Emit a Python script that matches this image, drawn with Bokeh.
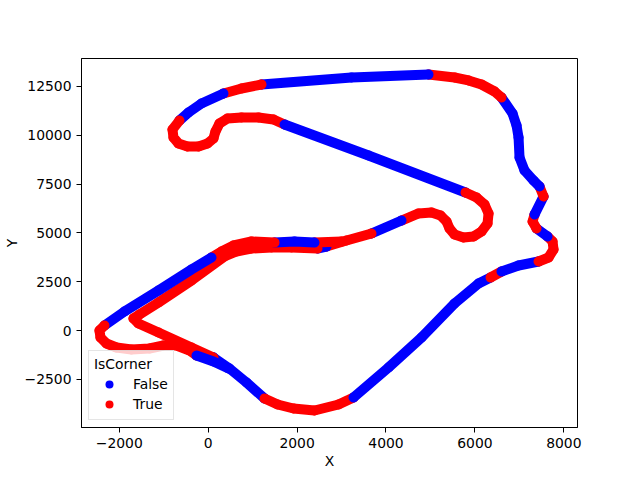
from bokeh.plotting import figure
from bokeh.models import ColumnDataSource, Range1d, FixedTicker
from bokeh.embed import file_html
from bokeh.resources import INLINE

# ---- data (track coordinates, IsCorner flag) ----
lap_x = [119, 479, 862, 1267, 1562, 1919, 2392, 2932, 3269, 4057, 4799, 5542, 6082,
         6352, 6599, 6982, 7432, 7657, 7769, 7747, 7634, 7387, 7297, 7342, 7544, 7454,
         7319, 7117, 7004, 6982, 6937, 6847, 6599, 6442, 6149, 5857, 5542, 4957, 3224,
         1199, 749, 344, -151, -443,
         -646, -803, -781, -668, -466, -218, -16, 119, 164, 254, 434, 749, 1132, 1469,
         1717, 3607, 5789, 6037, 6217, 6307, 6284, 6149, 5969, 5744, 5542, 5429, 5362,
         5227, 5024, 4732, 4349,
         3674, 3112, 2662, 2459, 1874, 1424, 974, 637, 367, -376, -1118, -1546, -1681,
         -1568, -1118, -376, 119]
lap_y = [-1383, -1947, -2664, -3484, -3791, -3996, -4098, -3791, -3432, -1896, -359,
         1383, 2408, 2715, 3023, 3330, 3535, 3740, 4150, 4559, 4816, 5225, 5584, 5943,
         6865, 7377,
         7685, 8197, 8863, 9887, 10502, 11117, 11937, 12244, 12603, 12808, 12961, 13115,
         12961, 12603, 12398, 12142, 11629, 11168,
         10758, 10297, 9887, 9580, 9426, 9426, 9580, 9836, 10195,
         10605, 10861, 10912, 10912, 10810, 10553, 8965, 7070, 6814, 6455, 5994, 5482,
         5072, 4816, 4764, 4918, 5225, 5584, 5891, 6045, 5994, 5635,
         4969, 4611, 4303, 4201, 4252, 4252, 4201,
         4047, 3791, 2562, 1434, 820, 615, 359, -102, -871, -1383]
lap_corner = [False, False, False, True, True, True, True, True, False, False, False,
              False, False, True, False, False, True, True, True, True, False, True,
              True, False, True, False,
              False, False, False, False, False, False, True, True, True, True, True,
              False, False, True, True, False, False, False,
              True, True, True, True, True, True, True, True, True, True, True, True,
              True, True, False, False,
              True, True, True, True, True, True, True, True, True, True, True, True,
              True, True, False,
              True, True, False,
              True, True, True, True, True, True, True, True, True, True, True, True,
              True, False]

alt_x = [2999, 2392, 1942, 1492, 974, 569, 299, 74, -376, -1118, -1883, -2333, -2446,
         -2423, -2288, -2063, -1726, -1321, -1006, -713, -421, -263, 119, 457]
alt_y = [4559, 4508, 4559, 4508, 4559, 4355, 4047, 3740, 3125, 2049, 973, 256, 0,
         -359, -666, -871, -973, -922, -768, -768, -1025, -1281, -1588, -1947]
alt_corner = [True, False, False, True, True, True, True, False, False, False, False,
              True, True, True, True, True, True, True, True, True, True, False, False,
              False]

x_ticks = [-2000, 0, 2000, 4000, 6000, 8000]
y_ticks = [-2500, 0, 2500, 5000, 7500, 10000, 12500]
x_range = (-2850, 8308)
y_range = (-4969, 13934)

COLORS = {False: "#0000ff", True: "#ff0000"}
FONT = "DejaVu Sans"
FS = "13.9px"


def runs(xs, ys, flags):
    out = []
    start = 0
    n = len(xs)
    for i in range(1, n):
        if flags[i] != flags[start] or i == n - 1:
            out.append((xs[start:i + 1], ys[start:i + 1], flags[start]))
            start = i
    return out


seg_xs, seg_ys, seg_col = [], [], []
for xs, ys, fl in runs(lap_x, lap_y, lap_corner) + runs(alt_x, alt_y, alt_corner):
    seg_xs.append(list(xs))
    seg_ys.append(list(ys))
    seg_col.append(COLORS[fl])

pts = ColumnDataSource(dict(
    x=lap_x + alt_x,
    y=lap_y + alt_y,
    IsCorner=[str(c) for c in lap_corner + alt_corner],
    color=[COLORS[c] for c in lap_corner + alt_corner],
))
lines = ColumnDataSource(dict(xs=seg_xs, ys=seg_ys, color=seg_col))

p = figure(frame_width=496, frame_height=369,
           x_range=Range1d(*x_range), y_range=Range1d(*y_range),
           output_backend="svg", toolbar_location=None,
           min_border_left=72, min_border_right=56,
           min_border_top=58, min_border_bottom=37,
           background_fill_color="white", border_fill_color="white")

p.scatter("x", "y", source=pts, size=10, color="color", line_color=None,
          legend_group="IsCorner")
p.multi_line("xs", "ys", source=lines, line_color="color", line_width=10,
             line_cap="round", line_join="round")

p.grid.visible = False
p.outline_line_color = "black"
p.outline_line_width = 1

p.xaxis.ticker = FixedTicker(ticks=x_ticks, minor_ticks=[])
p.yaxis.ticker = FixedTicker(ticks=y_ticks, minor_ticks=[])
p.xaxis.major_label_overrides = {t: (str(t).replace("-", "\u2212")) for t in x_ticks}
p.yaxis.major_label_overrides = {t: (str(t).replace("-", "\u2212")) for t in y_ticks}
p.xaxis.axis_label = "X"
p.yaxis.axis_label = "Y"
for ax in (p.xaxis[0], p.yaxis[0]):
    ax.axis_label_text_font = FONT
    ax.axis_label_text_font_size = FS
    ax.axis_label_text_font_style = "normal"
    ax.axis_label_text_color = "black"
    ax.axis_label_standoff = 2
    ax.major_label_text_font = FONT
    ax.major_label_text_font_size = FS
    ax.major_label_text_color = "black"
    ax.major_label_standoff = 5
    ax.major_tick_in = 0
    ax.major_tick_out = 5
    ax.minor_tick_in = 0
    ax.minor_tick_out = 0
    ax.major_tick_line_color = "black"
    ax.axis_line_color = "black"

lg = p.legend[0]
lg.title = "IsCorner"
lg.location = "bottom_left"
lg.margin = 7
lg.padding = 5
lg.spacing = 0
lg.glyph_width = 30
lg.glyph_height = 20
lg.label_height = 20
lg.label_standoff = 9
lg.title_standoff = 2
lg.label_text_font = FONT
lg.label_text_font_size = FS
lg.label_text_color = "black"
lg.title_text_font = FONT
lg.title_text_font_size = FS
lg.title_text_font_style = "normal"
lg.title_text_color = "black"
lg.border_line_color = "#cccccc"
lg.border_line_width = 1
lg.background_fill_alpha = 0.8

open("out.html", "w").write(file_html(p, INLINE))
